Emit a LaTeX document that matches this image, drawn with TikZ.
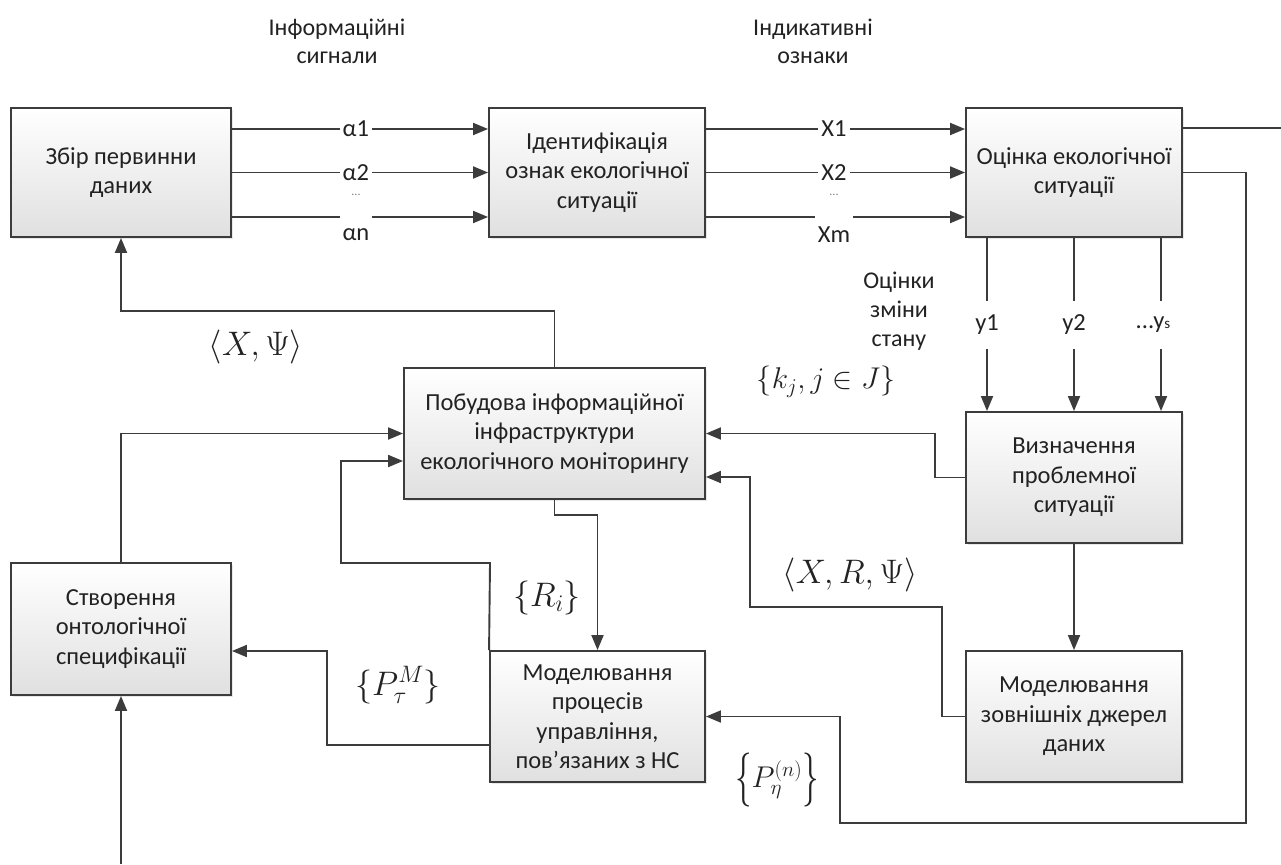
\RequirePackage{fix-cm}
\documentclass[tikz,border=0pt]{standalone}
\usepackage{fontspec}
\setmainfont{Carlito}
\usetikzlibrary{arrows.meta,shadows}
\definecolor{linec}{HTML}{3C3C3C}
\definecolor{txtc}{HTML}{222222}
\definecolor{boxbot}{HTML}{E0E0E0}
% a tall brace made from the ordinary glyph stretched vertically
\newcommand{\tallbrace}[1]{\raisebox{-6pt}{\scalebox{1.1}[1.8]{$#1$}}}
\begin{document}
\begin{tikzpicture}[x=1pt,y=-1pt,
  every node/.style={text=txtc},
  block/.style={draw=linec, line width=1.9pt, top color=white, bottom color=boxbot,
    align=center, inner sep=0pt, font=\fontsize{24.5}{29.5}\selectfont,
    drop shadow={shadow xshift=2pt, shadow yshift=-2pt, opacity=0.18}},
  conn/.style={draw=linec, line width=1.9pt},
  arr/.style={conn, -{Triangle[length=15pt,width=12pt]}},
  sig/.style={fill=white, inner xsep=3pt, inner ysep=1pt, font=\fontsize{24.5}{28}\selectfont},
  vsig/.style={fill=white, inner xsep=1pt, minimum height=48pt, font=\fontsize{24.5}{28}\selectfont},
  note/.style={align=center, font=\fontsize{24}{28}\selectfont},
  mlab/.style={font=\fontsize{34}{40}\selectfont}
]
\fill[white] (0,0) rectangle (1281,864);
\useasboundingbox (0,0) rectangle (1281,864);

% blocks
\node[block, minimum width=220pt, minimum height=129pt] (zbir)   at (121,172.5)  {Збір первинни\\даних};
\node[block, minimum width=216pt, minimum height=129pt] (ident)  at (597,172.5)  {Ідентифікація\\ознак екологічної\\ситуації};
\node[block, minimum width=216pt, minimum height=129pt] (ocinka) at (1074,172.5) {Оцінка екологічної\\ситуації};
\node[block, minimum width=301pt, minimum height=131pt] (pobud)  at (554.5,433.5){Побудова інформаційної\\інфраструктури\\екологічного моніторингу};
\node[block, minimum width=216pt, minimum height=131pt] (vyzn)   at (1074,477.5) {Визначення\\проблемної\\ситуації};
\node[block, minimum width=220pt, minimum height=132pt] (stvor)  at (121,629)    {Створення\\онтологічної\\специфікації};
\node[block, minimum width=215pt, minimum height=131pt] (modp)   at (597.5,716.5){Моделювання\\процесів\\управління,\\пов’язаних з НС};
\node[block, minimum width=216pt, minimum height=131pt] (modz)   at (1074,716.5) {Моделювання\\зовнішніх джерел\\даних};

% free ends of the outer loop
\coordinate (outR) at (1281,128);
\coordinate (inB)  at (121,864);

% information signals
\draw[arr] ([yshift=43.5pt]zbir.east) -- node[sig, pos=0.484] (a1) {α1} ([yshift=43.5pt]ident.west);
\draw[arr] (zbir.east) -- node[sig, pos=0.484] (a2) {α2} (ident.west);
\draw[arr] ([yshift=-44.5pt]zbir.east) -- node[sig, pos=0.484, anchor=north, yshift=4pt, minimum height=42pt] (an) {αn} ([yshift=-44.5pt]ident.west);
\node[font=\fontsize{12}{13}\selectfont, text=gray] (adots) at (356,195) {...};

% indicative features
\draw[arr] ([yshift=43.5pt]ident.east) -- node[sig, pos=0.494] (x1) {X1} ([yshift=43.5pt]ocinka.west);
\draw[arr] (ident.east) -- node[sig, pos=0.494] (x2) {X2} (ocinka.west);
\draw[arr] ([yshift=-44.5pt]ident.east) -- node[sig, pos=0.494, anchor=north, yshift=4pt, minimum height=42pt] (xm) {Xm} ([yshift=-44.5pt]ocinka.west);
\node[font=\fontsize{12}{13}\selectfont, text=gray] (xdots) at (834,195) {...};

% assessment outputs
\draw[conn] ([yshift=44.5pt]ocinka.east) -- (outR);
\draw[arr] ([xshift=-87pt]ocinka.south) -- node[vsig, pos=0.5] (y1) {y1} ([xshift=-87pt]vyzn.north);
\draw[arr] (ocinka.south) -- node[vsig, pos=0.5] (y2) {y2} (vyzn.north);
\draw[arr] ([xshift=87pt]ocinka.south) -- node[vsig, pos=0.5, xshift=-8pt] (ys) {...y{\fontsize{15}{16}\selectfont s}} ([xshift=87pt]vyzn.north);
\draw[arr] (ocinka.east) -- (1246,172.5) |- (840,823) |- (modp.east);

% problem situation
\draw[arr] (vyzn.west) -- (935,477.5) |- (pobud.east);
\draw[arr] (vyzn.south) -- (modz.north);
\draw[arr] (modz.west) -- (942,716.5) |- (750,607) |- ([yshift=-43.5pt]pobud.east);

% infrastructure
\draw[arr] (pobud.north) |- (121,311) -- (zbir.south);
\draw[arr] (stvor.north) |- (pobud.west);
\draw[arr] (modp.north west) -- (490,563) -- (341,563) |- ([yshift=-27.5pt]pobud.west);
\draw[arr] (pobud.south) -- (554.5,515) -| (modp.north);
\draw[arr] ([yshift=-28.5pt]modp.west) -- (327,745) |- ([yshift=-22pt]stvor.east);
\draw[arr] (inB) -- (stvor.south);

% captions
\node[note] (infsig) at (337,41)  {Інформаційні\\сигнали};
\node[note] (indoz)  at (813,41)  {Індикативні\\ознаки};
\node[note, font=\fontsize{24}{29}\selectfont] (ocz) at (899,311) {Оцінки\\зміни\\стану};

% set labels
\node[mlab] (lxpsi)  at (256,347) {$\langle X, \Psi\rangle$};
\node[mlab, font=\fontsize{30}{36}\selectfont] (lkj) at (826,382) {$\{k_j, j\in J\}$};
\node[mlab] (lxrpsi) at (850,575) {$\langle X, R, \Psi\rangle$};
\node[mlab] (lri)    at (547,598) {$\{R_i\}$};
\node[mlab] (lptau)  at (398,685) {$\{P_\tau^M\}$};
\node[mlab, font=\fontsize{30}{36}\selectfont] (lpeta) at (777,780) {\tallbrace{\{}$P_\eta^{(n)}$\tallbrace{\}}};
\end{tikzpicture}
\end{document}
